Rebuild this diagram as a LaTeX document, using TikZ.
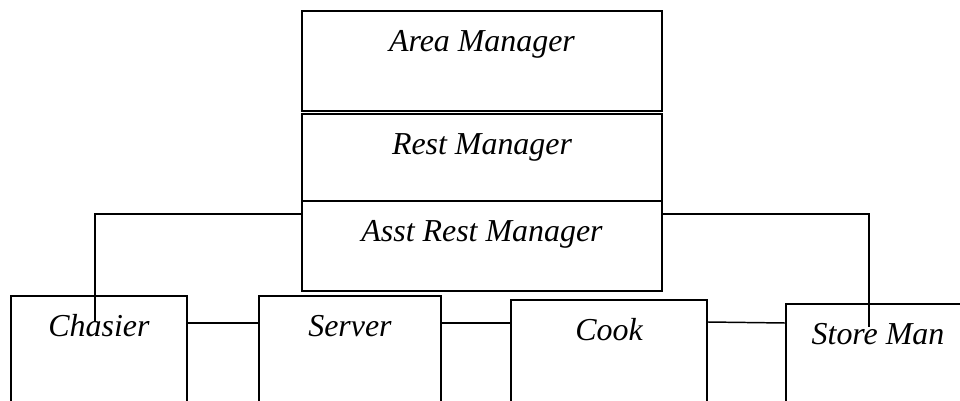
\documentclass[tikz,border=0pt]{standalone}
\usepackage{fontspec}
\setmainfont{Liberation Serif}
\usepackage{tikz}
\usetikzlibrary{arrows.meta}
\newcommand{\postfont}{\fontsize{22.7pt}{27pt}\selectfont\itshape}

\begin{document}
\begin{tikzpicture}[x=0.025cm,y=-0.025cm]
\tikzstyle{every node}=[draw,line width=1.4pt,inner sep=0pt,anchor=north,text height=1.025cm,font=\postfont]
\tikzstyle{link}=[line width=1.05pt]
\useasboundingbox (0,0) rectangle (960,401);
\node (area) at (482,10) [minimum width=9cm,text depth=1.475cm] {Area Manager};
\node (rest) at (482,113) [minimum width=9cm,text depth=1.15cm] {Rest Manager};
\node (asst) at (482,200) [minimum width=9cm,text depth=1.225cm] {Asst Rest Manager};
\node (chas) at (99,295) [minimum width=4.4cm,text depth=2.5cm] {Chasier};
\node (serv) at (350,295) [minimum width=4.55cm,text depth=2.5cm] {Server};
\node (cook) at (609,299) [minimum width=4.9cm,text depth=2.5cm] {Cook};
\node (store) at (878,303) [minimum width=4.6cm,text depth=2.5cm] {Store Man};
\coordinate (chasend) at (95,322);
\coordinate (storeend) at (869,327);
\draw[link] ([yshift=-0.35cm]asst.north west) -| (chasend);
\draw[link] ([yshift=-0.35cm]asst.north east) -| (storeend);
\draw[link] (chas.east |- 0,323) -- (serv.west |- 0,323);
\draw[link] (serv.east |- 0,323) -- (cook.west |- 0,323);
\draw[link] (cook.east |- 0,322) -- (store.west |- 0,323);
\end{tikzpicture}
\end{document}
